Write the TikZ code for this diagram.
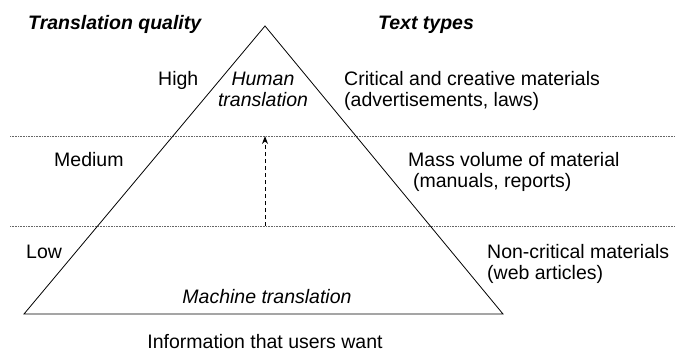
\documentclass[tikz,border=0pt]{standalone}
\usepackage{fontspec}
\setmainfont{Liberation Sans}
\usetikzlibrary{arrows.meta}
\tikzset{
    lbl/.style={anchor=base west,align=left,inner sep=0pt,font=\fontsize{19.5}{21}\selectfont},
    head/.style={lbl,font=\fontsize{19.5}{21}\selectfont\bfseries\itshape},
    inner/.style={anchor=base,align=center,inner sep=0pt,font=\fontsize{19.5}{21}\selectfont\itshape},
    band/.style={dash pattern=on 0.8pt off 0.8pt,black!60,line width=0.9pt}
}
\begin{document}
\begin{tikzpicture}[x=1pt,y=-1pt]
            \useasboundingbox (0,0) rectangle (675,351);
            \def\pyramid{(265,26) coordinate (top) -- (503,314) coordinate (br) -- (24,314) coordinate (bl) -- cycle}
            % quality bands
            \draw[band] (10,136) coordinate (hl) -- (675,136) coordinate (hr);
            \draw[band] (10,226) coordinate (ll) -- (675,226) coordinate (lr);
            \draw[line width=0.8pt] \pyramid;
            \coordinate (up) at (top |- hl);
            \coordinate (dn) at (top |- ll);
            \draw[dash pattern=on 4pt off 3pt,line width=1pt,-{Stealth[length=8pt,width=6pt]}] (dn) -- (up);
            % headings (base of last line is the anchor)
            \node[head] (tq) at (28,29) {Translation quality};
            \node[head] (tt) at (378,29) {Text types};
            % left column
            \node[lbl] (high) at (158,85) {High};
            \node[lbl] (med) at (54,166) {Medium};
            \node[lbl] (low) at (26,258) {Low};
            % inside the pyramid
            \node[inner] (human) at (263,106) {Human\\translation};
            \node[inner] (machine) at (267,303) {Machine translation};
            % right column
            \node[lbl] (crit) at (344,106) {Critical and creative materials\\(advertisements, laws)};
            \node[lbl] (mass) at (408,187) {Mass volume of material\\\hspace{0.25em}(manuals, reports)};
            \node[lbl] (noncrit) at (487,279) {Non-critical materials\\(web articles)};
            \node[lbl,anchor=base] (info) at (265,348) {Information that users want};
        \end{tikzpicture}
\end{document}
